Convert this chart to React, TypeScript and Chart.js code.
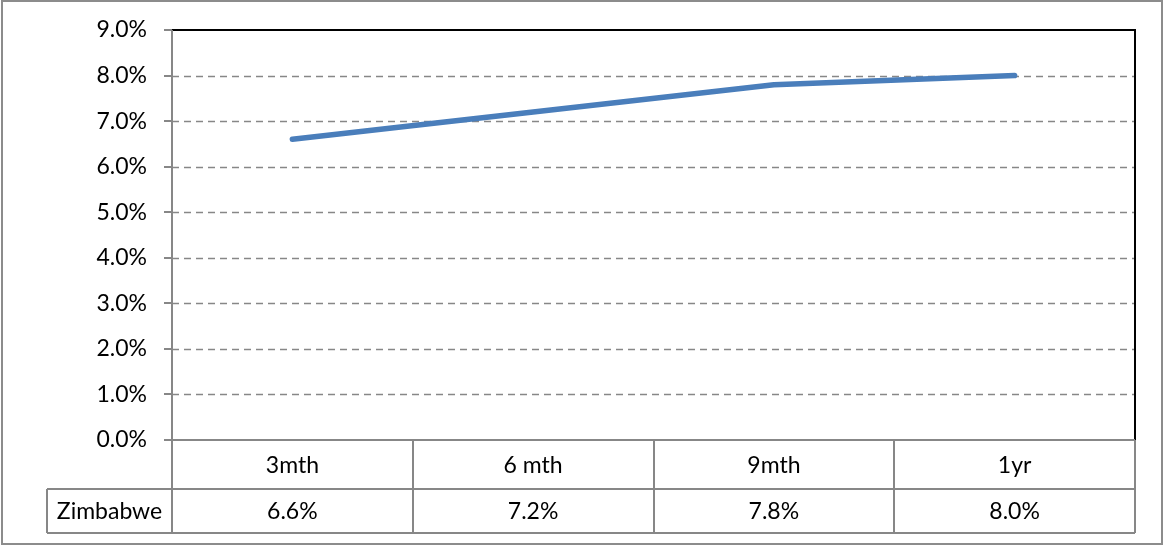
import React, { useEffect, useRef } from "react";
import { Chart, registerables } from "chart.js";

Chart.register(...registerables);

const categories = ["3mth", "6 mth", "9mth", "1yr"];
const seriesName = "Zimbabwe";
const zimbabweValues = [0.066, 0.072, 0.078, 0.08];
const yMin = 0;
const yMax = 0.09;
const yStep = 0.01;

const W = 1164;
const H = 546;
const FONT = "Lato, 'Open Sans', sans-serif";
const FONT_SIZE = 23;
const GRAY = "#878787";

const fmtPct = (v: number) => (v * 100).toFixed(1) + "%";

export default function App() {
  const ref = useRef<HTMLCanvasElement | null>(null);

  useEffect(() => {
    if (!ref.current) return;

    const tablePlugin = {
      id: "excelDecor",
      beforeDatasetsDraw(chart: any) {
        const { ctx, chartArea } = chart;
        const yScale = chart.scales.y;
        const { left, right, top, bottom } = chartArea;
        ctx.save();
        ctx.strokeStyle = GRAY;
        ctx.lineWidth = 1.5;
        ctx.setLineDash([7, 5]);
        yScale.ticks.forEach((t: any) => {
          const y = Math.round(yScale.getPixelForValue(t.value)) + 0.5;
          if (t.value <= yMin + 1e-9 || t.value >= yMax - 1e-9) return;
          ctx.beginPath();
          ctx.moveTo(left, y);
          ctx.lineTo(right, y);
          ctx.stroke();
        });
        ctx.setLineDash([]);
        ctx.lineWidth = 2;
        yScale.ticks.forEach((t: any) => {
          const y = Math.round(yScale.getPixelForValue(t.value));
          ctx.beginPath();
          ctx.moveTo(left - 8, y);
          ctx.lineTo(left, y);
          ctx.stroke();
        });
        ctx.strokeStyle = "#000000";
        ctx.lineWidth = 2;
        ctx.beginPath();
        ctx.moveTo(left, top);
        ctx.lineTo(right, top);
        ctx.lineTo(right, bottom);
        ctx.stroke();
        ctx.restore();
      },
      afterDraw(chart: any) {
        const { ctx, chartArea } = chart;
        const xScale = chart.scales.x;
        const { left, right, bottom } = chartArea;
        const row1Bottom = bottom + 49;
        const row2Bottom = bottom + 93;
        const legendLeft = 47;
        ctx.save();
        ctx.strokeStyle = GRAY;
        ctx.lineWidth = 2;
        ctx.beginPath();
        ctx.moveTo(left, chartArea.top);
        ctx.lineTo(left, row2Bottom);
        ctx.stroke();
        ctx.beginPath();
        ctx.moveTo(left - 8, bottom);
        ctx.lineTo(right, bottom);
        ctx.stroke();
        ctx.beginPath();
        ctx.moveTo(legendLeft, row1Bottom);
        ctx.lineTo(right, row1Bottom);
        ctx.moveTo(legendLeft, row2Bottom);
        ctx.lineTo(right, row2Bottom);
        ctx.moveTo(legendLeft, row1Bottom);
        ctx.lineTo(legendLeft, row2Bottom);
        ctx.moveTo(right, bottom);
        ctx.lineTo(right, row2Bottom);
        const step = (right - left) / categories.length;
        for (let i = 1; i < categories.length; i++) {
          const x = Math.round(left + step * i);
          ctx.moveTo(x, bottom);
          ctx.lineTo(x, row2Bottom);
        }
        ctx.stroke();
        ctx.fillStyle = "#000000";
        ctx.font = `${FONT_SIZE}px ${FONT}`;
        ctx.textAlign = "center";
        ctx.textBaseline = "middle";
        categories.forEach((c, i) => {
          const x = xScale.getPixelForValue(i);
          ctx.fillText(c, x, (bottom + row1Bottom) / 2 + 1);
          ctx.fillText(fmtPct(zimbabweValues[i]), x, (row1Bottom + row2Bottom) / 2 + 1);
        });
        ctx.fillText(seriesName, (legendLeft + left) / 2, (row1Bottom + row2Bottom) / 2 + 1);
        ctx.strokeStyle = "#8c8c8c";
        ctx.lineWidth = 2;
        ctx.strokeRect(2, 1, W - 4, H - 3);
        ctx.restore();
      },
    };

    const chart = new Chart(ref.current, {
      type: "line",
      data: {
        labels: categories,
        datasets: [
          {
            label: seriesName,
            data: zimbabweValues,
            borderColor: "#4a7ebb",
            borderWidth: 5.5,
            pointRadius: 0,
            tension: 0,
            borderCapStyle: "round",
            borderJoinStyle: "round",
          },
        ],
      },
      options: {
        responsive: false,
        animation: false,
        devicePixelRatio: 1,
        layout: { padding: { left: 0, top: 30, right: W - 1135, bottom: 0 } },
        plugins: { legend: { display: false }, tooltip: { enabled: false } },
        scales: {
          x: {
            type: "category",
            offset: true,
            grid: { display: false, drawTicks: false },
            border: { display: false },
            ticks: { display: false },
            afterFit: (s: any) => {
              s.height = H - 440;
              s.paddingLeft = 0;
              s.paddingRight = 0;
            },
          },
          y: {
            min: yMin,
            max: yMax,
            grid: { display: false, drawTicks: false },
            border: { display: false },
            ticks: {
              stepSize: yStep,
              padding: 25,
              color: "#000000",
              font: { family: FONT, size: FONT_SIZE },
              callback: (v: any) => fmtPct(Number(v)),
            },
            afterFit: (s: any) => {
              s.width = 172;
              s.paddingTop = 0;
              s.paddingBottom = 0;
            },
          },
        },
      },
      plugins: [tablePlugin],
    } as any);

    return () => chart.destroy();
  }, []);

  return (
    <div style={{ position: "absolute", left: 0, top: 0, width: W, height: H, background: "#fff" }}>
      <canvas ref={ref} width={W} height={H} style={{ width: W, height: H, display: "block" }} />
    </div>
  );
}
